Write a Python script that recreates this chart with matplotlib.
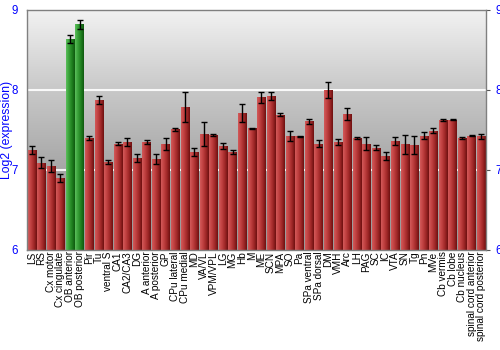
import matplotlib
matplotlib.use("Agg")
import matplotlib.pyplot as plt
import numpy as np
from matplotlib.colors import LinearSegmentedColormap

labels = ["LS", "RS", "Cx motor", "Cx cingulate", "OB anterior", "OB posterior", "Pir", "Tu",
          "ventral S", "CA1", "CA2/CA3", "DG", "A anterior", "A posterior", "GP", "CPu lateral",
          "CPu medial", "MD", "VA/VL", "VPM/VPL", "LG", "MG", "Hb", "M", "ME", "SCN", "MPA",
          "SO", "Pa", "SPa ventral", "SPa dorsal", "DM", "VMH", "Arc", "LH", "PAG", "SC", "IC",
          "VTA", "SN", "Tg", "Pn", "MVe", "Cb vermis", "Cb lobe", "Cb nucleus",
          "spinal cord anterior", "spinal cord posterior"]
values = [7.25, 7.09, 7.05, 6.90, 8.64, 8.82, 7.40, 7.875,
          7.10, 7.33, 7.35, 7.15, 7.35, 7.14, 7.325, 7.51,
          7.79, 7.22, 7.45, 7.44, 7.30, 7.225, 7.71, 7.52, 7.91, 7.92, 7.69,
          7.425, 7.42, 7.61, 7.33, 8.00, 7.35, 7.70, 7.40, 7.33, 7.28, 7.18,
          7.36, 7.32, 7.31, 7.43, 7.49, 7.625, 7.63, 7.40,
          7.43, 7.42]
errors = [0.05, 0.07, 0.07, 0.05, 0.05, 0.06, 0.03, 0.05,
          0.02, 0.02, 0.05, 0.05, 0.03, 0.06, 0.07, 0.02,
          0.19, 0.05, 0.15, 0.01, 0.04, 0.03, 0.11, 0.005, 0.07, 0.05, 0.02,
          0.06, 0.01, 0.03, 0.04, 0.10, 0.04, 0.07, 0.01, 0.08, 0.03, 0.05,
          0.05, 0.12, 0.11, 0.04, 0.03, 0.01, 0.01, 0.01,
          0.01, 0.03]
highlight = ["OB anterior", "OB posterior"]

ymin, ymax = 6, 9
yticks = [6, 7, 8, 9]

fig = plt.figure(figsize=(5, 3.5), dpi=100)
ax = fig.add_axes([27/500, 1-250/350, (486-27)/500, 240/350])

n = len(labels)
x = np.arange(n)
ax.set_xlim(-0.5, n-0.5)
ax.set_ylim(ymin, ymax)

# background gradient (light at top, darker at bottom)
bg = np.linspace(0, 1, 256).reshape(-1, 1)
bgcmap = LinearSegmentedColormap.from_list("bg", ["#f2f2f2", "#c8c8c8", "#a6a6a6", "#999999"])
ax.imshow(bg, cmap=bgcmap, aspect="auto", extent=(-0.5, n-0.5, ymin, ymax),
          origin="upper", zorder=0, interpolation="bilinear")

for yv in [7, 8]:
    ax.axhline(yv, color="white", lw=1.5, zorder=1, alpha=0.9)

red_cmap = LinearSegmentedColormap.from_list("red", ["#d25a5a", "#c04040", "#a02828", "#6e1010"])
green_cmap = LinearSegmentedColormap.from_list("green", ["#5cc05c", "#38a038", "#208020", "#0f5a0f"])
grad = np.linspace(0, 1, 64).reshape(1, -1)

bars = ax.bar(x, np.array(values) - ymin, bottom=ymin, width=0.88, color="none",
              edgecolor="none", zorder=2)
for lab, b in zip(labels, bars):
    cm = green_cmap if lab in highlight else red_cmap
    x0, w = b.get_x(), b.get_width()
    im = ax.imshow(grad, cmap=cm, aspect="auto",
                   extent=(x0, x0 + w, ymin, b.get_y() + b.get_height()),
                   zorder=2, interpolation="bilinear")
    im.set_clip_path(b)

ax.errorbar(x, values, yerr=errors, fmt="none", ecolor="black", elinewidth=1,
            capsize=2, capthick=1, zorder=3)

ax.set_xlim(-0.5, n-0.5)
ax.set_ylim(ymin, ymax)
ax.set_xticks(x)
ax.set_xticklabels(labels, rotation=90, fontsize=7.2, family="Liberation Sans")
ax.tick_params(axis="x", length=0, pad=1)
ax.set_yticks(yticks)
ax.tick_params(axis="y", which="both", left=False, right=True, labelleft=True,
               labelright=True, labelcolor="blue", labelsize=8.3, length=3, pad=3.5,
               color="#555555")
for t in ax.get_yticklabels():
    t.set_family("Liberation Sans")
ax.set_ylabel("Log2 (expression)", color="blue", fontsize=8.8, family="Liberation Sans")
ax.yaxis.set_label_coords(-0.031, 0.5)
for s in ax.spines.values():
    s.set_color("#808080")
    s.set_linewidth(1)

fig.savefig("out.png", dpi=100)
